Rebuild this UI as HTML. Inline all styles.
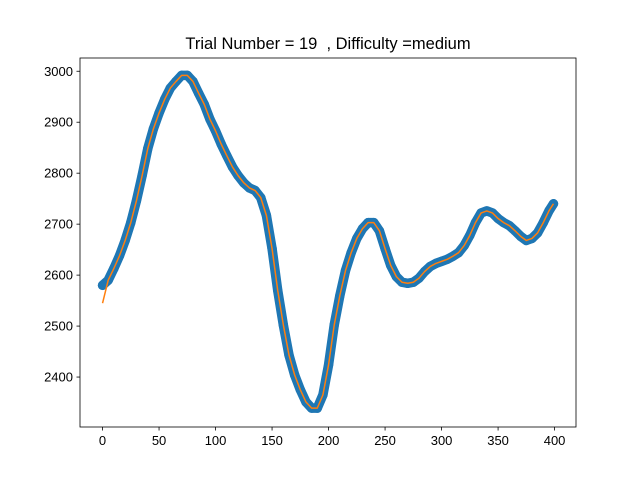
<!DOCTYPE html>
<html><head><meta charset="utf-8"><style>
body{margin:0;background:#fff}
svg{display:block;font-family:"Liberation Sans","DejaVu Sans",sans-serif}
</style></head><body>
<svg id="chart" width="640" height="480" xmlns="http://www.w3.org/2000/svg">
<rect width="640" height="480" fill="#fff"/>
<text x="328" y="49" text-anchor="middle" font-size="16.5" fill="#000" style="white-space:pre" xml:space="preserve">Trial Number = 19  , Difficulty =medium</text>
<g id="plot"></g>
<g id="axes"></g>
</svg>
<script>
const xIndex = [0,5,10,15,20,25,30,35,40,45,50,55,60,65,70,75,80,85,90,95,100,105,110,115,120,125,130,135,140,145,150,155,160,165,170,175,180,185,190,195,200,205,210,215,220,225,230,235,240,245,250,255,260,265,270,275,280,285,290,295,300,305,310,315,320,325,330,335,340,345,350,355,360,365,370,375,380,385,390,395,399];
const rawValues = [2580,2590,2613,2638,2668,2703,2746,2795,2848,2887,2918,2945,2967,2980,2992,2992,2980,2957,2935,2906,2883,2857,2834,2812,2795,2781,2771,2766,2752,2717,2652,2570,2502,2443,2404,2375,2351,2339,2339,2365,2424,2502,2560,2609,2644,2672,2691,2703,2703,2687,2652,2619,2597,2586,2584,2586,2594,2607,2617,2623,2627,2631,2637,2644,2658,2678,2703,2722,2726,2722,2711,2703,2697,2687,2676,2668,2672,2683,2703,2726,2740];
const smoothValues = [2545,2590,2613,2638,2668,2703,2746,2795,2848,2887,2918,2945,2967,2980,2992,2992,2980,2957,2935,2906,2883,2857,2834,2812,2795,2781,2771,2766,2752,2717,2652,2570,2502,2443,2404,2375,2351,2339,2339,2365,2424,2502,2560,2609,2644,2672,2691,2703,2703,2687,2652,2619,2597,2586,2584,2586,2594,2607,2617,2623,2627,2631,2637,2644,2658,2678,2703,2722,2726,2722,2711,2703,2697,2687,2676,2668,2672,2683,2703,2726,2740];
const xTicks = [0,50,100,150,200,250,300,350,400];
const yTicks = [2400,2500,2600,2700,2800,2900,3000];

const L=80,R=576,T=58,B=427;
const xMin=-19.95,xMax=418.95,yMin=2302,yMax=3026;
const sx=v=>L+(v-xMin)/(xMax-xMin)*(R-L);
const sy=v=>B-(v-yMin)/(yMax-yMin)*(B-T);
const NS="http://www.w3.org/2000/svg";
const plot=document.getElementById('plot'), axes=document.getElementById('axes');
function mk(tag,attrs,parent){const e=document.createElementNS(NS,tag);for(const k in attrs)e.setAttribute(k,attrs[k]);parent.appendChild(e);return e;}

const cp=mk('clipPath',{id:'clip'},plot);mk('rect',{x:L,y:T,width:R-L,height:B-T},cp);
const g=mk('g',{'clip-path':'url(#clip)'},plot);
const pts=xIndex.map((x,i)=>sx(x)+','+sy(rawValues[i])).join(' ');
const band=mk('polyline',{points:pts,fill:'none',stroke:'#1f77b4','stroke-width':9.5,'stroke-linejoin':'round','stroke-linecap':'round'},g);


xIndex.forEach((x,i)=>{
  const c=mk('circle',{cx:sx(x),cy:sy(rawValues[i]),r:4.7,fill:'#1f77b4'},g);
  
  
});
const line=mk('polyline',{points:xIndex.map((x,i)=>sx(x)+','+sy(smoothValues[i])).join(' '),fill:'none',stroke:'#ff7f0e','stroke-width':1.5,'stroke-linejoin':'round'},g);



const frame=mk('rect',{x:L,y:T,width:R-L,height:B-T,fill:'none',stroke:'#000','stroke-width':0.8},axes);


xTicks.forEach(t=>{
  const x=sx(t);
  const tk=mk('line',{x1:x,x2:x,y1:B,y2:B+3.5,stroke:'#000','stroke-width':0.8},axes);
  
  
  const tx=mk('text',{x:x,y:B+18,'text-anchor':'middle','font-size':13,fill:'#000'},axes);
  tx.textContent=t;
  
  
});
yTicks.forEach(t=>{
  const y=sy(t);
  const tk=mk('line',{x1:L-3.5,x2:L,y1:y,y2:y,stroke:'#000','stroke-width':0.8},axes);
  
  
  const tx=mk('text',{x:L-7,y:y+4.5,'text-anchor':'end','font-size':13,fill:'#000'},axes);
  tx.textContent=t;
  
  
});
</script>
</body></html>
